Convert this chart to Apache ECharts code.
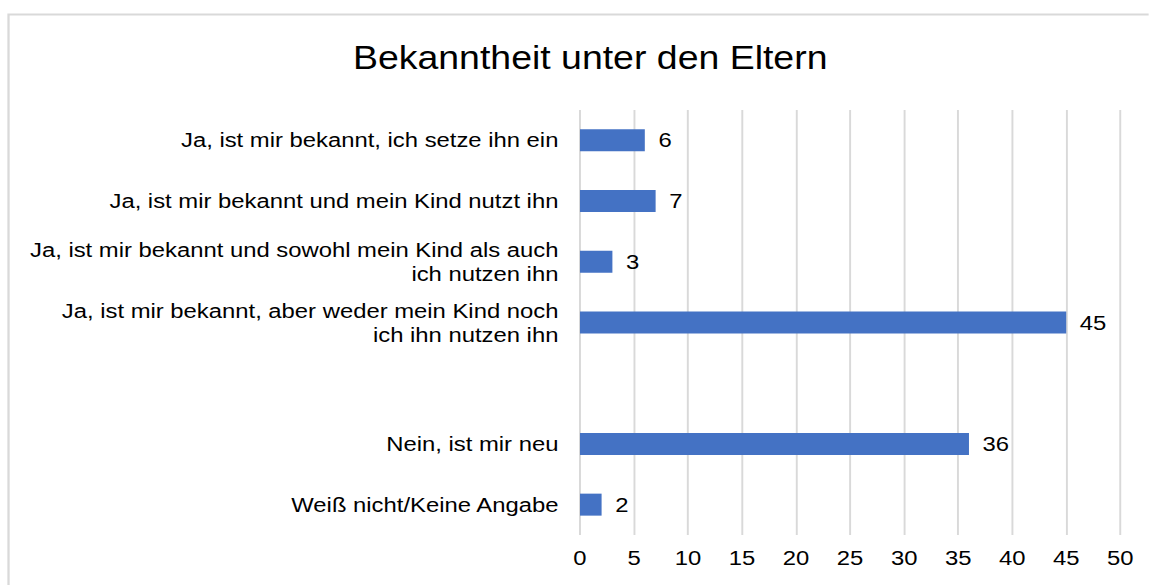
<!DOCTYPE html>
<html>
<head>
<meta charset="utf-8">
<script src="https://cdn.jsdelivr.net/npm/echarts@6/dist/echarts.min.js"></script>
<style>
  html, body { margin: 0; padding: 0; background: #fff; overflow: hidden; }
  /* the original picture is stretched sideways, so the chart is drawn narrower and widened */
  #chart { width: 1012px; height: 585px; transform: scaleX(1.135); transform-origin: 0 0; }
</style>
</head>
<body>
<div id="chart"></div>
<script>
// answers, top to bottom (the empty one is a gap row in the original)
var categories = [
    'Ja, ist mir bekannt, ich setze ihn ein',
    'Ja, ist mir bekannt und mein Kind nutzt ihn',
    'Ja, ist mir bekannt und sowohl mein Kind als auch\nich nutzen ihn',
    'Ja, ist mir bekannt, aber weder mein Kind noch\nich ihn nutzen ihn',
    '',
    'Nein, ist mir neu',
    'Weiß nicht/Keine Angabe'
];
var values = [6, 7, 3, 45, null, 36, 2];
var xTicks = [0, 50, 5]; // min, max, interval

var barColor = '#4472C4';
var font = 'Liberation Sans, Arial, sans-serif';

var option = {
    backgroundColor: '#fff',
    animation: false,
    title: {
        text: 'Bekanntheit unter den Eltern',
        left: 515,
        top: 36,
        textAlign: 'center',
        textStyle: { fontFamily: font, fontSize: 33, fontWeight: 'normal', color: '#000' }
    },
    graphic: [{
        type: 'rect',
        shape: { x: 7.5, y: 14.5, width: 1100, height: 600 },
        style: { fill: 'none', stroke: '#d9d9d9', lineWidth: 2 },
        silent: true
    }],
    grid: { left: 511, right: 25, top: 110, bottom: 50 },
    xAxis: {
        type: 'value',
        min: xTicks[0],
        max: xTicks[1],
        interval: xTicks[2],
        axisLine: { show: false },
        axisTick: { show: false },
        axisLabel: { fontFamily: font, fontSize: 21, color: '#000', margin: 12 },
        splitLine: { lineStyle: { color: '#d9d9d9', width: 1.7 } }
    },
    yAxis: {
        type: 'category',
        data: categories,
        inverse: true,
        axisLine: { show: false },
        axisTick: { show: false },
        axisLabel: {
            fontFamily: font, fontSize: 21, color: '#000',
            margin: 19, lineHeight: 24, align: 'right'
        }
    },
    series: [{
        type: 'bar',
        data: values,
        barWidth: 22,
        itemStyle: { color: barColor },
        label: {
            show: true,
            position: 'right',
            distance: 12,
            fontFamily: font,
            fontSize: 21,
            color: '#000'
        }
    }]
};

var chart = echarts.init(document.getElementById('chart'), null, { renderer: 'svg' });
chart.setOption(option);
</script>
</body>
</html>
